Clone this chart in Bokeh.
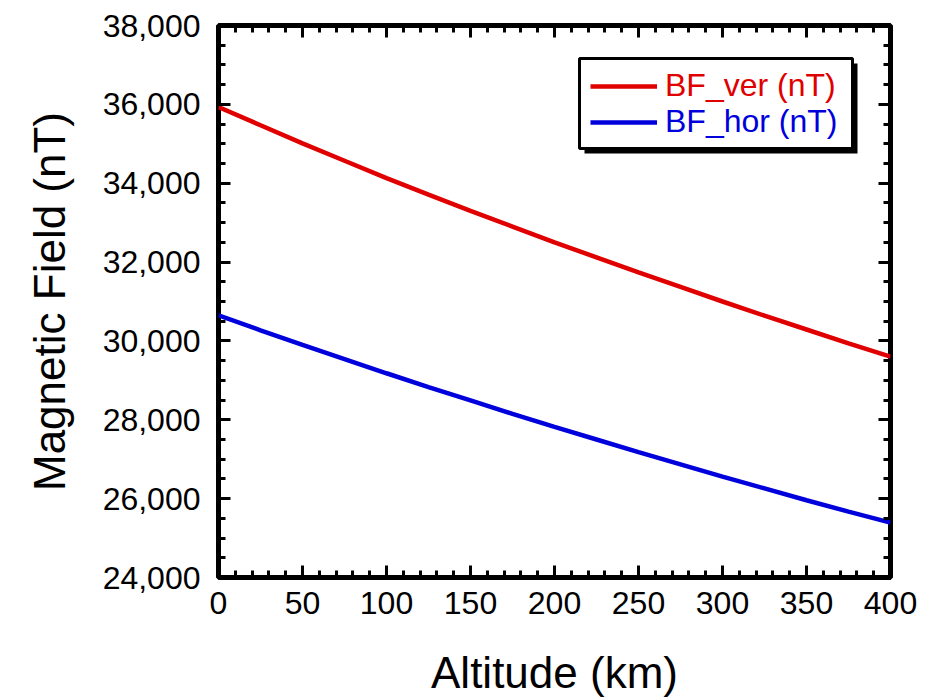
from bokeh.plotting import figure
from bokeh.models import (Range1d, LinearAxis, SingleIntervalTicker, NumeralTickFormatter,
                          Legend, LegendItem, BoxAnnotation, CustomLabelingPolicy)
from bokeh.embed import file_html
from bokeh.resources import INLINE

# ---- data ----
altitude_km = [0, 25, 50, 75, 100, 125, 150, 175, 200, 225, 250, 275, 300, 325, 350, 375, 400]
bf_ver_nT = [35930, 35470, 35010, 34570, 34130, 33710, 33300, 32900, 32500,
             32120, 31740, 31370, 31000, 30640, 30290, 29940, 29600]
bf_hor_nT = [30650, 30270, 29900, 29540, 29180, 28830, 28490, 28150, 27820,
             27500, 27180, 26870, 26560, 26260, 25960, 25670, 25390]
series_names = ["BF_ver (nT)", "BF_hor (nT)"]
x_title = "Altitude (km)"
y_title = "Magnetic Field (nT)"

RED = "#e00000"
BLUE = "#0000dc"
FONT = "Liberation Sans"

p = figure(width=931, height=700, output_backend="svg", toolbar_location=None,
           x_range=Range1d(0, 400), y_range=Range1d(24000, 38000),
           min_border_left=218, min_border_right=41, min_border_top=25, min_border_bottom=123,
           x_axis_location=None, y_axis_location=None)
p.background_fill_color = "white"
p.border_fill_color = "white"
p.outline_line_color = "black"
p.outline_line_width = 5
p.grid.visible = False

r_ver = p.line(altitude_km, bf_ver_nT, line_color=RED, line_width=4.5)
r_hor = p.line(altitude_km, bf_hor_nT, line_color=BLUE, line_width=4.5)

NO_LABELS = CustomLabelingPolicy(code="for (const i of Array.from(indices)) indices.unset(i); return indices")


def make_axis(interval, minor, show_labels, title=None):
    ax = LinearAxis(ticker=SingleIntervalTicker(interval=interval, num_minor_ticks=minor))
    ax.axis_line_color = None
    ax.major_tick_in = 12
    ax.major_tick_out = 0
    ax.minor_tick_in = 7
    ax.minor_tick_out = 0
    ax.major_tick_line_width = 3
    ax.minor_tick_line_width = 3
    ax.major_tick_line_color = "black"
    ax.minor_tick_line_color = "black"
    if show_labels:
        ax.formatter = NumeralTickFormatter(format="0,0")
        ax.major_label_text_font = FONT
        ax.major_label_text_font_size = "32px"
        ax.major_label_text_color = "black"
    else:
        ax.major_label_policy = NO_LABELS
        ax.major_label_standoff = 0
    if title:
        ax.axis_label = title
        ax.axis_label_text_font = FONT
        ax.axis_label_text_font_size = "44px"
        ax.axis_label_text_font_style = "normal"
        ax.axis_label_text_color = "black"
    return ax


xb = make_axis(50, 5, True, x_title)
xb.major_label_standoff = 14
xb.axis_label_standoff = 31
p.add_layout(xb, "below")

yl = make_axis(2000, 4, True, y_title)
yl.major_label_standoff = 18
yl.axis_label_standoff = 26
p.add_layout(yl, "left")

p.add_layout(make_axis(50, 5, False), "above")
p.add_layout(make_axis(2000, 4, False), "right")

# ---- legend box with drop shadow ----
shadow = BoxAnnotation(left=366, right=639, top=514, bottom=424,
                       left_units="screen", right_units="screen",
                       top_units="screen", bottom_units="screen",
                       fill_color="black", fill_alpha=1.0, line_color=None)
box = BoxAnnotation(left=361, right=634, top=519, bottom=429,
                    left_units="screen", right_units="screen",
                    top_units="screen", bottom_units="screen",
                    fill_color="white", fill_alpha=1.0,
                    line_color="black", line_alpha=1.0, line_width=3)
p.add_layout(shadow)
p.add_layout(box)


def make_legend(renderer, label, color, loc):
    lg = Legend(items=[LegendItem(label=label, renderers=[renderer])], location=loc)
    lg.border_line_color = None
    lg.background_fill_alpha = 0
    lg.padding = 0
    lg.margin = 0
    lg.spacing = 0
    lg.glyph_width = 67
    lg.glyph_height = 30
    lg.label_height = 30
    lg.label_standoff = 8
    lg.label_text_font = FONT
    lg.label_text_font_size = "32px"
    lg.label_text_color = color
    return lg


p.add_layout(make_legend(r_ver, series_names[0], RED, (372, 473)))
p.add_layout(make_legend(r_hor, series_names[1], BLUE, (372, 437)))

open("out.html", "w").write(file_html(p, INLINE))
